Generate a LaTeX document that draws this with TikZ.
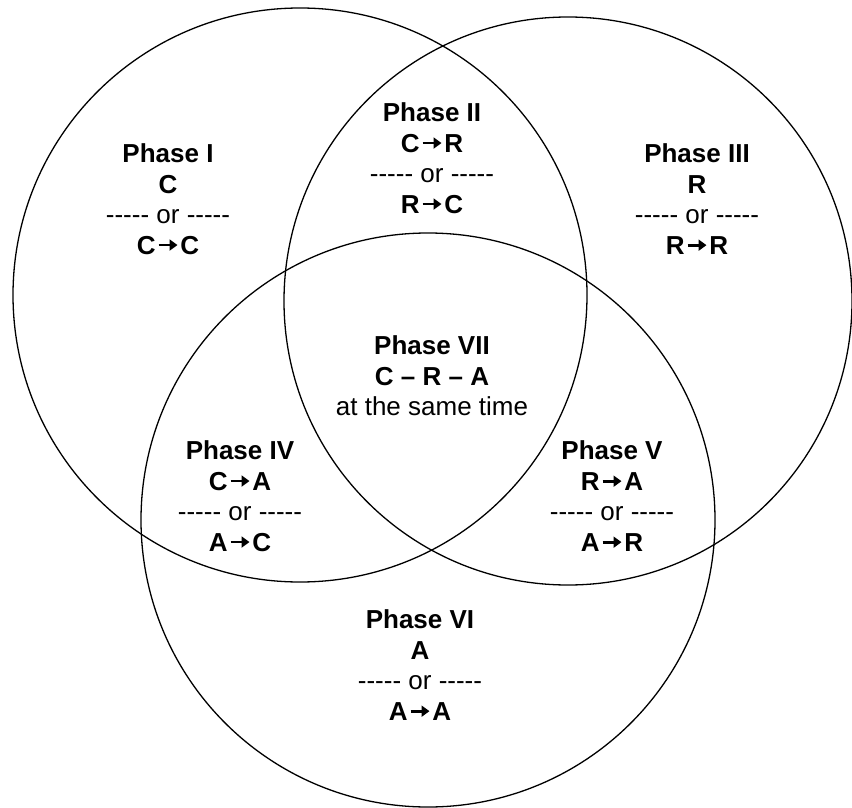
\documentclass[tikz,border=0pt]{standalone}
\usepackage{fontspec}
\setmainfont{Liberation Sans}
\usetikzlibrary{positioning, arrows.meta}
\tikzset{
	ring/.style={draw=black, line width=1.3pt},
	phase/.style={align=center, inner sep=0pt, font=\fontsize{26}{30.5}\selectfont},
}
\newcommand{\dashrun}{-{}-{}-{}-{}-}
\newcommand{\orsep}{\dashrun{} or \dashrun}
\newcommand{\harr}{\kern1.5pt\tikz[baseline=-9pt]\draw[line width=2.8pt, -{Triangle[length=8pt, width=11pt]}] (0pt,0pt) -- (19pt,0pt);\kern1.5pt}
\newcommand{\tto}[2]{\textbf{#1\harr#2}}

\begin{document}
\begin{tikzpicture}[x=1pt, y=-1pt]
	\useasboundingbox (0,0) rectangle (852,808);
	% the three circles
	\draw[ring] (300,295) circle[radius=287pt];
	\draw[ring] (568,301) circle[radius=284pt];
	\draw[ring] (428,520) circle[radius=287pt];
	% one region each
	\node[phase] (phI)   at (168,199) {\textbf{Phase I}\\ \textbf{C}\\ \orsep\\ \tto{C}{C}};
	\node[phase] (phII)  at (432,158) {\textbf{Phase II}\\ \tto{C}{R}\\ \orsep\\ \tto{R}{C}};
	\node[phase] (phIII) at (697,199) {\textbf{Phase III}\\ \textbf{R}\\ \orsep\\ \tto{R}{R}};
	\node[phase] (phVII) at (432,376) {\textbf{Phase VII}\\ \textbf{C – R – A}\\ at the same time};
	\node[phase] (phIV)  at (240,496) {\textbf{Phase IV}\\ \tto{C}{A}\\ \orsep\\ \tto{A}{C}};
	\node[phase] (phV)   at (612,496) {\textbf{Phase V}\\ \tto{R}{A}\\ \orsep\\ \tto{A}{R}};
	\node[phase] (phVI)  at (420,665) {\textbf{Phase VI}\\ \textbf{A}\\ \orsep\\ \tto{A}{A}};
\end{tikzpicture}
\end{document}
